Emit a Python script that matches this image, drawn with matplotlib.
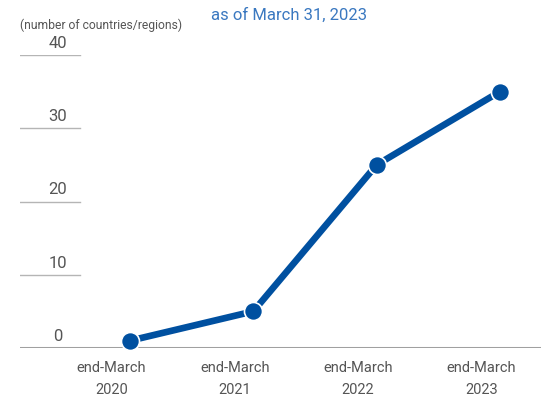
import matplotlib.pyplot as plt
import matplotlib.transforms as mtransforms

plt.rcParams['font.family'] = ['Roboto', 'DejaVu Sans']

years = ['2020', '2021', '2022', '2023']
counts = [1, 5, 25, 35]
yticks = [0, 10, 20, 30, 40]

fig = plt.figure(figsize=(5.41, 3.98), dpi=100)
W, H = 541, 398
# axes: x from 20px to 541px, y from 55px (40) to 348px (0)
ax = fig.add_axes([20 / W, (H - 348) / H, 521 / W, (348 - 55) / H])
x = list(range(len(years)))
ax.set_xlim(-0.892, 3.333)
ax.set_ylim(0, 40)
ax.axis('off')

# short grid lines + tick labels
blend = mtransforms.blended_transform_factory(ax.transAxes, ax.transData)
for t in yticks:
    if t == 0:
        ax.axhline(0, color='#a0a0a0', lw=2.2, zorder=1)
    else:
        ax.plot([0, 60 / 521], [t, t], transform=blend, color='#b5b5b5', lw=1, zorder=1)
    ax.annotate(str(t), xy=(38 / 521, t), xycoords=blend, xytext=(0, 3),
                textcoords='offset points', ha='center', va='bottom',
                fontsize=12, color='#555555')

ax.plot(x, counts, color='#0050a0', lw=4.8, marker='o', markersize=13,
        markeredgecolor='white', markeredgewidth=1.2, zorder=3, clip_on=False)

# x labels
xt = mtransforms.blended_transform_factory(ax.transData, fig.transFigure)
for i, yr in enumerate(years):
    ax.text(i - 0.15, 1 - 368 / H, 'end-March', transform=xt, ha='center', va='center',
            fontsize=10.5, color='#555555')
    ax.text(i - 0.15, 1 - 390 / H, yr, transform=xt, ha='center', va='center',
            fontsize=10.5, color='#555555')

fig.text(20 / W, 1 - 25 / H, '(number of countries/regions)', ha='left', va='center',
         fontsize=8.7, color='#555555')
fig.text(289 / W, 1 - 15 / H, 'as of March 31, 2023', ha='center', va='center',
         fontsize=12, color='#3a78c0')

fig.savefig('out.png', dpi=100)
